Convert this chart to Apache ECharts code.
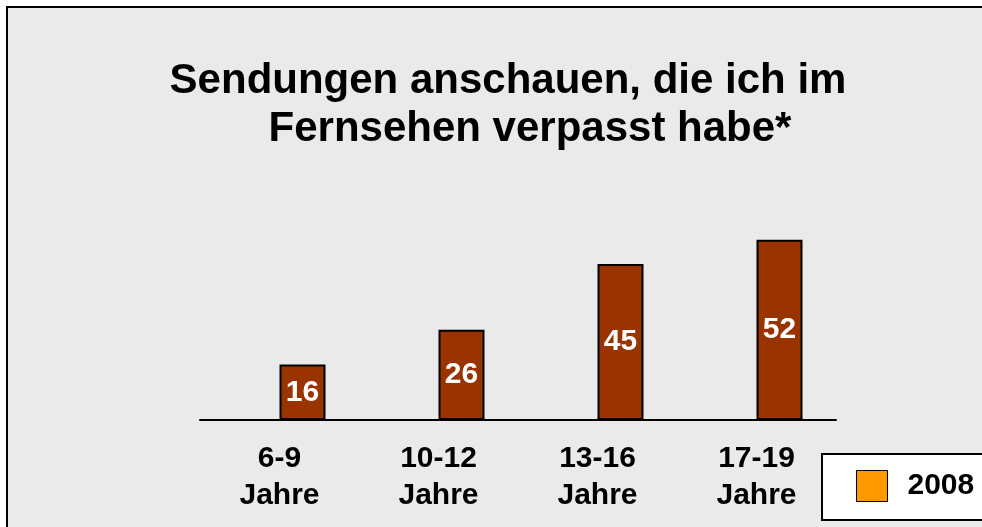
<!DOCTYPE html>
<html>
<head>
<meta charset="utf-8">
<script src="https://cdn.jsdelivr.net/npm/echarts@6/dist/echarts.min.js"></script>
<style>
  html, body { margin: 0; padding: 0; background: #fff; }
  #chart { width: 982px; height: 527px; }
</style>
</head>
<body>
<div id="chart"></div>
<script>
// Altersgruppen und Werte (2008)
const categories = ['6-9\nJahre', '10-12\nJahre', '13-16\nJahre', '17-19\nJahre'];
const values = [16, 26, 45, 52];
const legendName = '2008';

const font = '"Liberation Sans", Arial, sans-serif';

const chart = echarts.init(document.getElementById('chart'));

chart.setOption({
    backgroundColor: '#ffffff',
    animation: false,
    graphic: [{
        type: 'rect',
        z: -1,
        shape: { x: 7, y: 7, width: 1000, height: 600 },
        style: { fill: '#eaeaea', stroke: '#000', lineWidth: 2 }
    }],
    title: [
        {
            text: 'Sendungen anschauen, die ich im',
            left: 503,
            top: 55,
            textAlign: 'center',
            textStyle: { fontFamily: font, fontSize: 42, fontWeight: 'bold', color: '#000' }
        },
        {
            text: 'Fernsehen verpasst habe*',
            left: 525,
            top: 103,
            textAlign: 'center',
            textStyle: { fontFamily: font, fontSize: 42, fontWeight: 'bold', color: '#000' }
        }
    ],
    legend: {
        data: [legendName],
        left: 822,
        top: 454,
        orient: 'vertical',
        backgroundColor: '#ffffff',
        borderColor: '#000',
        borderWidth: 2,
        borderRadius: 0,
        padding: [16, 40, 18, 34],
        itemWidth: 31,
        itemHeight: 31,
        icon: 'rect',
        itemStyle: { borderColor: '#000', borderWidth: 1 },
        textStyle: { fontFamily: font, fontSize: 30, fontWeight: 'bold', color: '#000', padding: [0, 0, 0, 15] }
    },
    grid: { left: 200, right: 146, top: 212, bottom: 107 },
    xAxis: {
        type: 'category',
        data: categories,
        axisLine: { lineStyle: { color: '#000', width: 2 } },
        axisTick: { show: false },
        axisLabel: {
            margin: 20,
            fontFamily: font,
            fontSize: 30,
            fontWeight: 'bold',
            color: '#000',
            lineHeight: 37
        }
    },
    yAxis: {
        type: 'value',
        min: 0,
        max: 60,
        show: false,
        splitLine: { show: false }
    },
    series: [
        {
            name: legendName,
            type: 'bar',
            data: [],
            barWidth: 46,
            barGap: '0%',
            itemStyle: { color: '#FF9900', borderColor: '#000', borderWidth: 2 }
        },
        {
            name: 'Werte',
            type: 'bar',
            data: values,
            barWidth: 46,
            barGap: '0%',
            itemStyle: { color: '#993300', borderColor: '#000', borderWidth: 2 },
            label: {
                show: true,
                position: 'inside',
                fontFamily: font,
                fontSize: 30,
                fontWeight: 'bold',
                color: '#fff'
            }
        }
    ]
});
</script>
</body>
</html>
